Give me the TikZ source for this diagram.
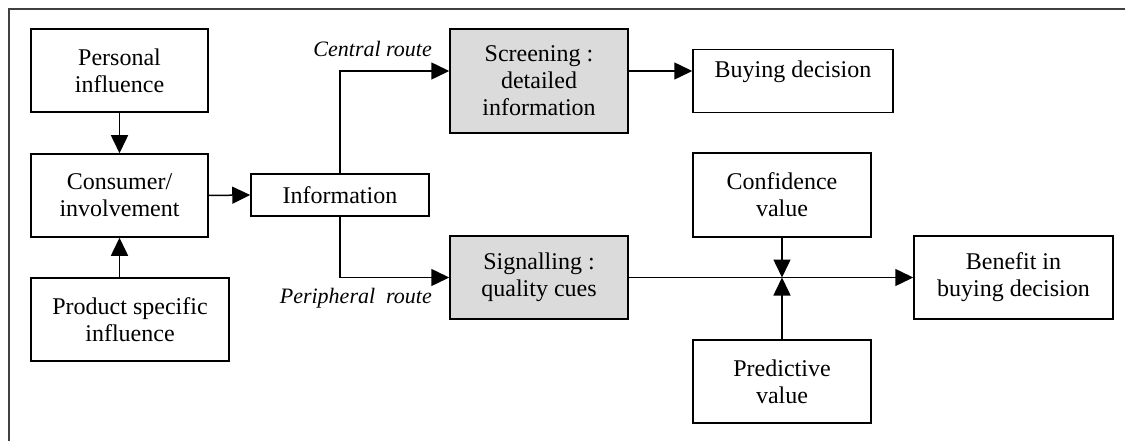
\documentclass[tikz,border=0pt]{standalone}
\usepackage{fontspec}
\setmainfont{Liberation Serif}
\usetikzlibrary{arrows.meta}
\begin{document}
\begin{tikzpicture}[x=1pt,y=-1pt,
  box/.style={draw, line width=1.5pt, align=center, inner sep=0pt,
    font=\fontsize{24}{27}\selectfont},
  shaded/.style={box, fill=black!14},
  arr/.style={line width=1.5pt, -{Triangle[length=18pt,width=17pt]}},
  route/.style={font=\fontsize{22}{26}\selectfont\itshape, inner sep=0pt}]
\useasboundingbox (0,0) rectangle (1125,441);
\draw[line width=1.8pt, black!75] (1125,9) -- (9,9) -- (9,441);

\node[box, minimum width=177pt, minimum height=83pt] (pers) at (119.5,70.5) {Personal\\influence};
\node[box, minimum width=177pt, minimum height=83pt] (cons) at (119.5,195.5) {Consumer/\\involvement};
\node[box, minimum width=198pt, minimum height=83pt] (prod) at (130,319.5) {Product specific\\influence};
\node[box, minimum width=178pt, minimum height=42pt] (info) at (340,195) {Information};
\node[shaded, minimum width=178pt, minimum height=104pt] (scr) at (539,81) {Screening :\\detailed\\information};
\node[box, minimum width=200pt, inner ysep=11pt, text height=17pt, text depth=24pt, anchor=north] (buy) at (793,49) {Buying decision};
\node[box, minimum width=178pt, minimum height=84pt] (conf) at (782,195) {Confidence\\value};
\node[shaded, minimum width=178pt, minimum height=83pt] (sig) at (539,277.5) {Signalling :\\quality cues};
\node[box, minimum width=178pt, minimum height=83pt] (pred) at (782,381.5) {Predictive\\value};
\node[box, minimum width=199pt, minimum height=83pt] (ben) at (1013.5,277.5) {Benefit in\\buying decision};

\node[route, anchor=base east] (cr) at (432,57) {Central route};
\node[route, anchor=base east] (pr) at (432,303) {Peripheral\ \ route};

\coordinate (jn) at (conf.south |- sig.east);

\draw[arr] (pers.south) -- (cons.north);
\draw[arr] (prod.north -| cons.south) -- (cons.south);
\draw[arr] (cons.east) -- (info.west);
\draw[arr] (info.north) |- ([yshift=10pt]scr.west);
\draw[arr] ([yshift=10pt]scr.east) -- ([yshift=10pt]scr.east -| buy.west);
\draw[arr] (info.south) |- (sig.west);
\draw[arr] (sig.east) -- (sig.east -| ben.west);
\draw[arr] (conf.south) -- (jn);
\draw[arr] (pred.north) -- (jn);
\end{tikzpicture}
\end{document}
